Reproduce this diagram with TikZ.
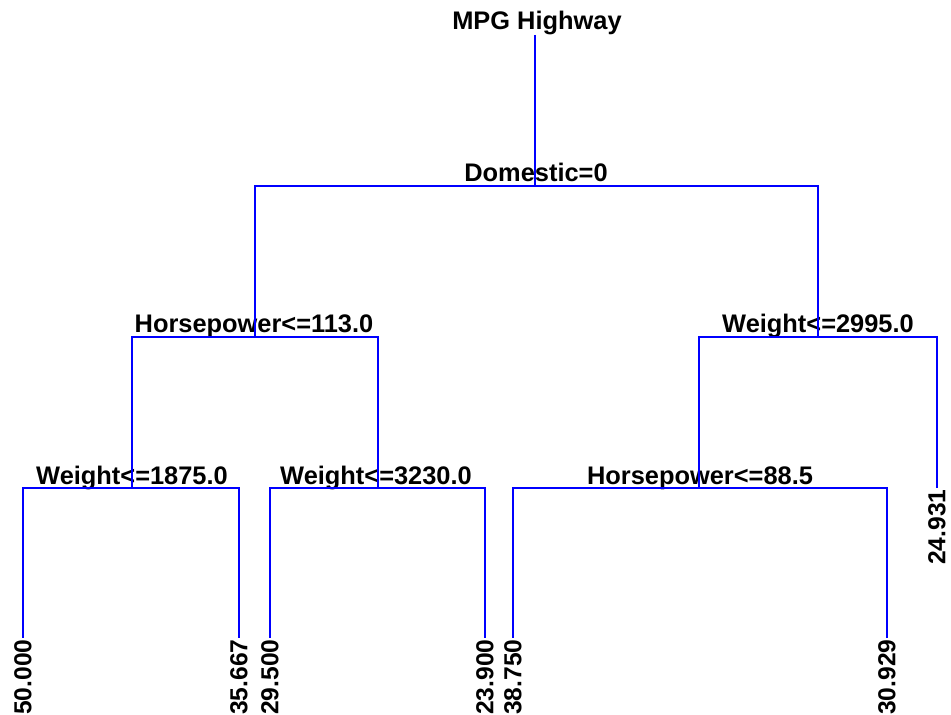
\documentclass[tikz,border=0pt]{standalone}
\usepackage{fontspec}
\setmainfont{Liberation Sans}
\begin{document}
\begin{tikzpicture}[
  x=0.5pt, y=-0.5pt,
  font=\fontsize{12.3}{14}\selectfont\bfseries,
  split/.style={anchor=base, inner sep=0pt, font=\fontsize{12.7}{14}\selectfont\bfseries},
  leaf/.style={rotate=90, anchor=east, inner sep=0.6pt},
  branch/.style={draw=blue, line width=0.7pt}
]
\useasboundingbox (0,0) rectangle (951,715);
\node[split] (title) at (537,30) {MPG Highway};
\coordinate (root) at (535,35);
\coordinate (dom) at (535,186);
\coordinate (hp1) at (255,337);
\coordinate (wt1) at (818,337);
\coordinate (wt2) at (132,488);
\coordinate (wt3) at (378,488);
\coordinate (hp2) at (699,488);
\node[split] (domlab) at (536,182) {Domestic=0};
\node[split] (hp1lab) at (254,333) {Horsepower<=113.0};
\node[split] (wt1lab) at (818,333) {Weight<=2995.0};
\node[split] (wt2lab) at (132,484) {Weight<=1875.0};
\node[split] (wt3lab) at (376,484) {Weight<=3230.0};
\node[split] (hp2lab) at (700,484) {Horsepower<=88.5};
\node[leaf] (l1) at (23,638) {50.000};
\node[leaf] (l2) at (239,638) {35.667};
\node[leaf] (l3) at (270,638) {29.500};
\node[leaf] (l4) at (485,638) {23.900};
\node[leaf] (l5) at (513,638) {38.750};
\node[leaf] (l6) at (887,638) {30.929};
\node[leaf] (l7) at (937,488) {24.931};
\draw[branch] (root) -- (dom);
\draw[branch] (dom) -| (hp1);
\draw[branch] (dom) -| (wt1);
\draw[branch] (hp1) -| (wt2);
\draw[branch] (hp1) -| (wt3);
\draw[branch] (wt1) -| (hp2);
\draw[branch] (wt1) -| (l7.east);
\draw[branch] (wt2) -| (l1.east);
\draw[branch] (wt2) -| (l2.east);
\draw[branch] (wt3) -| (l3.east);
\draw[branch] (wt3) -| (l4.east);
\draw[branch] (hp2) -| (l5.east);
\draw[branch] (hp2) -| (l6.east);
\end{tikzpicture}
\end{document}
